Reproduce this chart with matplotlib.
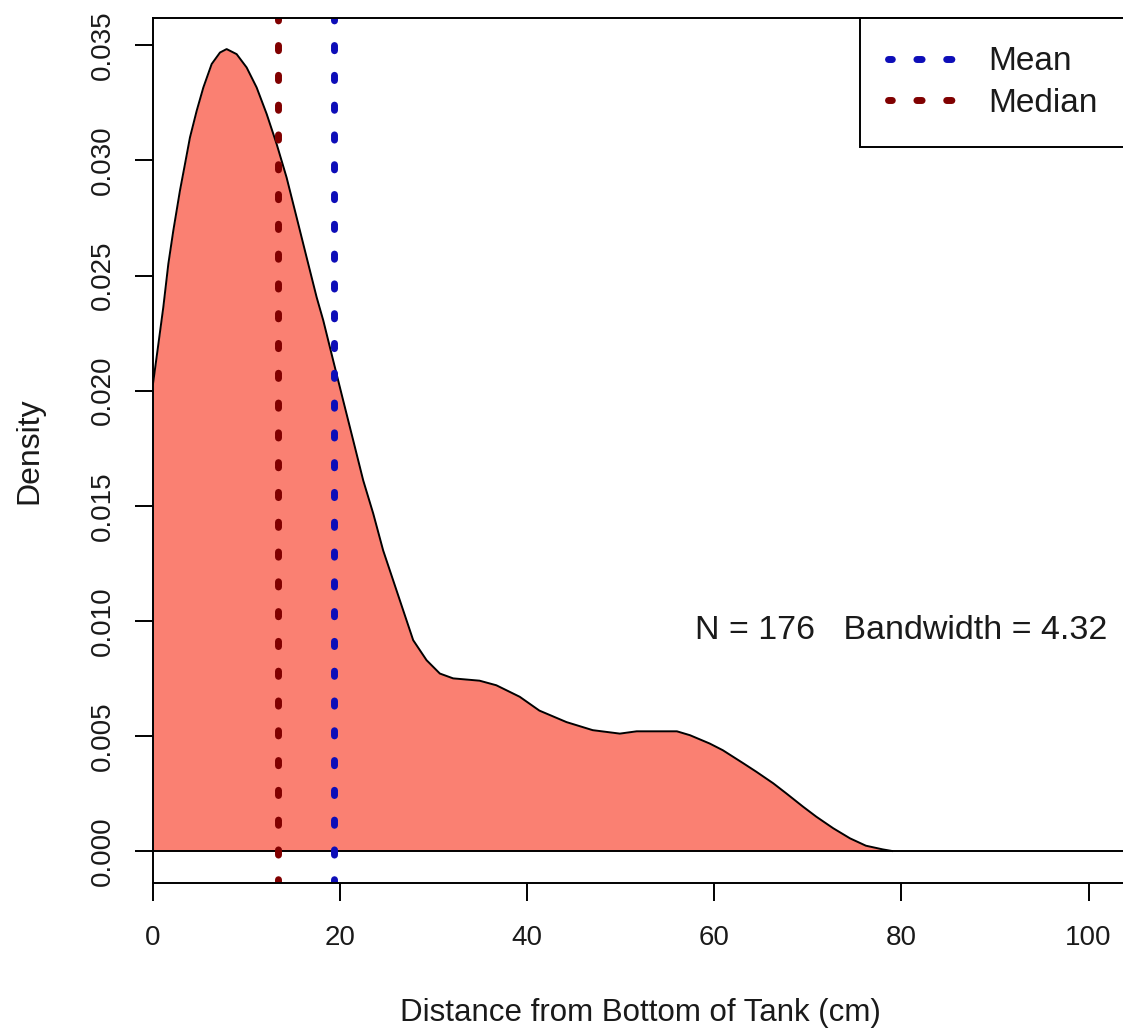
import matplotlib
matplotlib.use('Agg')
import matplotlib.pyplot as plt

plt.rcParams['font.family'] = ['Liberation Sans', 'DejaVu Sans']

# kernel density of fish position (read at the drawn curve)
dist_cm = [0.0, 0.5, 1.1, 1.64, 2.17, 2.88, 3.42, 3.95, 4.67, 5.38, 6.27, 7.16,
           7.87, 8.94, 10.01, 11.08, 12.15, 13.22, 14.28, 15.35, 16.42, 17.49,
           18.2, 19.26, 20.33, 21.4, 22.47, 23.54, 24.6, 25.67, 26.74, 27.81,
           29.24, 30.66, 32.08, 34.9, 36.7, 39.2, 41.3, 44.2, 47.0, 49.9, 51.7,
           56.0, 57.4, 59.5, 60.9, 63.1, 64.5, 66.3, 67.7, 69.5, 70.9, 72.7,
           74.5, 76.2, 78.0, 79.0]
density = [0.0203, 0.0218, 0.02362, 0.02551, 0.02695, 0.02869, 0.02985, 0.0310,
           0.03216, 0.03317, 0.03419, 0.03469, 0.03484, 0.03462, 0.03404,
           0.03317, 0.03202, 0.03071, 0.02926, 0.02753, 0.02579, 0.02406,
           0.02305, 0.02131, 0.01957, 0.01784, 0.0161, 0.01466, 0.01306,
           0.01176, 0.01046, 0.00916, 0.00829, 0.00771, 0.0075, 0.0074, 0.0072,
           0.0067, 0.0061, 0.0056, 0.00525, 0.0051, 0.0052, 0.0052, 0.00503,
           0.00467, 0.00438, 0.00381, 0.00344, 0.00294, 0.0025, 0.00192,
           0.00149, 0.00099, 0.00055, 0.00023, 0.00007, 0.0]

mean_cm = 19.3
median_cm = 13.4
n_obs = 176
bandwidth = 4.32

x_ticks = [0, 20, 40, 60, 80, 100]
y_ticks = [0.000, 0.005, 0.010, 0.015, 0.020, 0.025, 0.030, 0.035]

fig = plt.figure(figsize=(11.23, 10.30), dpi=100)
ax = fig.add_axes([153/1123, 1 - 883/1030, (1126 - 153)/1123, (883 - 18)/1030])

ax.fill_between(dist_cm, density, 0, color='#FA8072', lw=0)
ax.plot(dist_cm, density, color='black', lw=1.4)
ax.axhline(0, color='black', lw=1.4)

dots = (0.2, (0.75, 3.54))
ax.axvline(mean_cm, color='#0d0db8', lw=5, ls=dots, dash_capstyle='round', label='Mean')
ax.axvline(median_cm, color='#800000', lw=5, ls=dots, dash_capstyle='round', label='Median')

ax.text(80, 0.0092, 'N = %d   Bandwidth = %.2f' % (n_obs, bandwidth),
        ha='center', va='baseline', fontsize=24.5, color='#1a1a1a')

leg = ax.legend(loc='upper right', borderaxespad=0, fancybox=False, framealpha=1,
                edgecolor='black', fontsize=24, handlelength=2.0, handletextpad=1.0,
                labelspacing=0.31, borderpad=0.85)
leg.get_frame().set_linewidth(1.4)
for t in leg.get_texts():
    t.set_color('#1a1a1a')

ax.set_xlim(0, 104)
ax.set_ylim(-0.00139, 0.03619)
ax.set_xticks(x_ticks)
ax.set_yticks(y_ticks)
ax.set_yticklabels(['%.3f' % v for v in y_ticks], rotation=90, va='center')
ax.tick_params(length=13, width=1.4, labelsize=20, labelcolor='#1a1a1a')
ax.tick_params(axis='x', pad=17)
ax.tick_params(axis='y', pad=13.5)

for side in ['left', 'top', 'bottom']:
    ax.spines[side].set_linewidth(1.4)
ax.spines['right'].set_visible(False)

ax.set_xlabel('Distance from Bottom of Tank (cm)', fontsize=22.5, color='#1a1a1a')
ax.set_ylabel('Density', fontsize=23, color='#1a1a1a')
ax.xaxis.set_label_coords(0.5005, -0.133)
ax.yaxis.set_label_coords(-0.112, 0.5)

fig.savefig('out.png', dpi=100)
